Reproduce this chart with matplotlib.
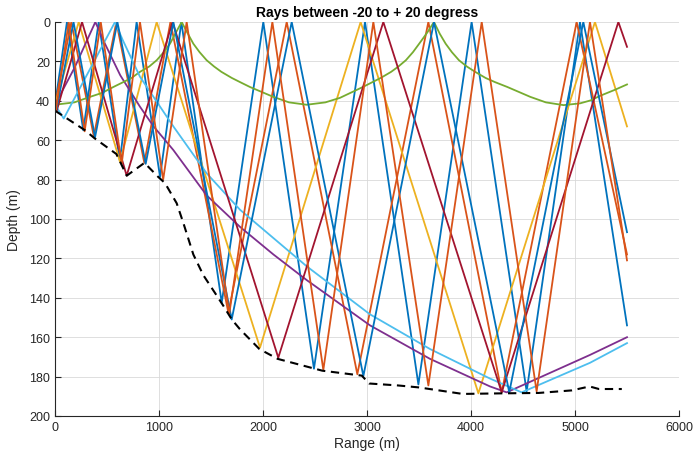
import matplotlib.pyplot as plt

plt.rcParams['font.family'] = ['Liberation Sans', 'DejaVu Sans']

# seabed profile (dashed black)
bathy_r = [0, 290, 380, 590, 690, 860, 990, 1058, 1170, 1234, 1330, 1426, 1538, 1618, 1700,
           1779, 1965, 2141, 2570, 2950, 3020, 3300, 3500, 3920, 4300, 4650, 4970, 5140, 5230, 5450]
bathy_z = [45, 55, 59, 67, 78, 71.5, 78.5, 81.8, 92, 102, 118, 128.5, 137.5, 144, 151,
           156, 166, 171, 177, 179.5, 183.5, 184.5, 185.5, 188.8, 188.5, 188.3, 187, 185, 186.3, 186.3]

# ray turning points (range m, depth m), launch angles -20..+20 deg in 5 deg steps
ray1_r = [0, 115, 272, 420, 624, 785, 1010, 1215, 1603, 2003, 2490, 2981, 3494, 4006, 4535, 5048, 5500]
ray1_z = [42, 0, 55, 0, 70.5, 0, 78.6, 0, 142.5, 0, 176, 0, 184, 0, 187.5, 0, 154]

ray2_r = [0, 157, 373, 590, 859, 1110, 1667, 2228, 2907, 3590, 4295, 5016, 5500]
ray2_z = [42, 0, 58, 0, 71.5, 0, 147.6, 0, 178.8, 0, 188, 0, 118]

ray3_r = [0, 228, 625, 978, 1971, 2939, 4071, 5192, 5500]
ray3_z = [42, 0, 71, 0, 165.3, 0, 188.5, 0, 53]

ray4_r = [0, 190, 388, 480, 627, 817, 948, 1138, 1458, 1779, 2100, 2420, 3029, 3606, 4183, 4343, 5144, 5500]
ray4_z = [42, 23, 0, 11, 27, 43, 53, 65, 88, 104, 118, 131, 154, 171, 185, 188, 169, 160]

ray5_r = [0, 186, 337, 452, 561, 657, 736, 817, 906, 978, 1046, 1106, 1160, 1218,
          1270, 1330, 1390, 1458, 1530, 1600, 1700, 1779, 1875, 2099, 2250, 2420,
          2600, 2740, 2960, 3053, 3132, 3232, 3302, 3374, 3442, 3502, 3580, 3644,
          3700, 3756, 3816, 3884, 3960, 4040, 4140, 4230, 4350, 4570, 4720, 4890,
          5048, 5150, 5240, 5380, 5500]
ray5_z = [42, 40.8, 38, 36, 33, 30.5, 28.4, 25.3, 22.6, 19.4, 15.3, 11, 5.6, 0,
          5.2, 11, 15.3, 19.4, 22.6, 25.3, 28.4, 30.5, 33, 38, 40.8, 42,
          40.8, 38.5, 33, 30.5, 28.4, 25.3, 22.6, 19.4, 15.3, 11, 5.3, 0,
          6, 11, 15.3, 19.4, 22.6, 25.3, 28.4, 30.5, 33, 38, 40.8, 42.2,
          41.3, 39.8, 37.5, 34.5, 31.7]

ray6_r = [0, 84, 577, 650, 817, 1138, 1458, 1779, 2420, 3029, 3606, 4183, 4487, 5144, 5500]
ray6_z = [42, 49, 0, 9, 27.8, 53, 76.8, 95.3, 124, 148.4, 166, 181, 188, 173, 163]

ray7_r = [0, 17, 260, 689, 1130, 2147, 3157, 4295, 5417, 5500]
ray7_z = [42, 45, 0, 78, 0, 170.4, 0, 188, 0, 12.6]

ray8_r = [0, 11, 178, 385, 600, 872, 1138, 1699, 2276, 2965, 3644, 4368, 5080, 5500]
ray8_z = [42, 45, 0, 58.5, 0, 72, 0, 151, 0, 179.7, 0, 188, 0, 106.7]

ray9_r = [0, 8, 132, 285, 440, 641, 817, 1040, 1266, 1676, 2090, 2580, 3061, 3590, 4103, 4631, 5144, 5500]
ray9_z = [42, 45, 0, 55.5, 0, 72, 0, 80, 0, 148, 0, 176.6, 0, 184.5, 0, 187.5, 0, 121]

rays = [(ray1_r, ray1_z), (ray2_r, ray2_z), (ray3_r, ray3_z), (ray4_r, ray4_z), (ray5_r, ray5_z),
        (ray6_r, ray6_z), (ray7_r, ray7_z), (ray8_r, ray8_z), (ray9_r, ray9_z)]

colors = ['#0072BD', '#D95319', '#EDB120', '#7E2F8E', '#77AC30', '#4DBEEE', '#A2142F']

fig = plt.figure(figsize=(6.94, 4.6), dpi=100)
ax = fig.add_axes([55 / 694, 1 - 417 / 460, (679 - 55) / 694, (417 - 23) / 460])

for i, (r, z) in enumerate(rays):
    ax.plot(r, z, color=colors[i % len(colors)], lw=1.3)

ax.plot(bathy_r, bathy_z, color='k', lw=1.5, dashes=(4, 2.7))

ax.set_xlim(0, 6000)
ax.set_ylim(200, 0)
ax.set_xticks(range(0, 6001, 1000))
ax.set_yticks(range(0, 201, 20))
ax.grid(True, color='#d9d9d9', lw=0.6)
ax.set_axisbelow(True)
for s in ['top', 'right']:
    ax.spines[s].set_visible(False)
for s in ['left', 'bottom']:
    ax.spines[s].set_color('#262626')
    ax.spines[s].set_linewidth(0.8)
ax.tick_params(direction='in', length=4, width=0.8, colors='#262626', labelsize=9)

ax.set_title('Rays between -20 to + 20 degress', fontsize=10, fontweight='bold', pad=4)
ax.set_xlabel('Range (m)', fontsize=10, color='#262626', labelpad=2)
ax.set_ylabel('Depth (m)', fontsize=10, color='#262626', labelpad=6)

fig.savefig('out.png', dpi=100)
